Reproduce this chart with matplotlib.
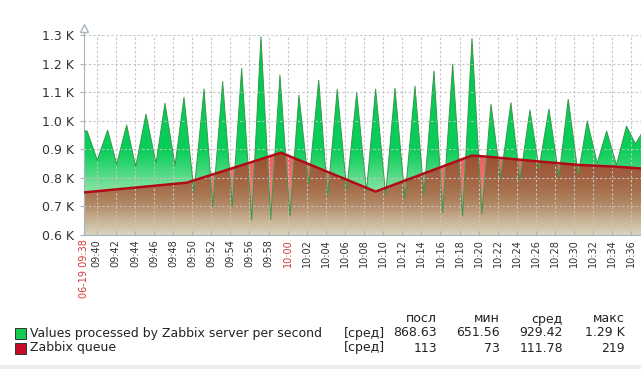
import numpy as np
import matplotlib
matplotlib.use('Agg')
import matplotlib.pyplot as plt
from matplotlib.patches import Rectangle

# minutes after 09:40 and values
proc_t = [-1.33, -1.0, 0.06, 1.15, 2.09, 3.14, 4.08, 5.16, 6.21, 7.15, 8.20, 9.14,
          10.19, 11.24, 12.15, 13.19, 14.20, 15.18, 16.23, 17.20, 18.22, 19.19,
          20.24, 21.18, 22.20, 23.25, 24.19, 25.19, 26.18, 27.23, 28.25, 29.21,
          30.26, 31.24, 32.28, 33.33, 34.27, 35.32, 36.23, 37.28, 38.32, 39.30,
          40.34, 41.29, 42.30, 43.38, 44.32, 45.37, 46.32, 47.36, 48.41, 49.38,
          50.43, 51.37, 52.42, 53.40, 54.43, 55.48, 56.42, 57.0]
proc_v = [964, 964, 862, 967, 848, 985, 839, 1023, 851, 1061, 843, 1082,
          752, 1111, 699, 1137, 699, 1183, 652, 1294, 655, 1160,
          666, 1090, 775, 1142, 734, 1110, 757, 1098, 753, 1111,
          740, 1113, 728, 1121, 740, 1174, 678, 1198, 666, 1288,
          673, 1058, 798, 1063, 792, 1037, 833, 1041, 804, 1075,
          810, 999, 851, 964, 845, 981, 919, 952]

queue_t = [-1.33, 9.42, 19.30, 29.21, 39.27, 40.97, 46.42, 50.61, 54.45, 57.0]
queue_v = [749, 783, 888, 752, 878, 874, 857, 845, 839, 833]

y_ticks = [600, 700, 800, 900, 1000, 1100, 1200, 1300]
x_ticks = list(range(0, 57, 2))
start_label = '06-19 09:38'

legend_names = ['Values processed by Zabbix server per second', 'Zabbix queue']
legend_cols = ['посл', 'мин', 'сред', 'макс']
legend_rows = [['868.63', '651.56', '929.42', '1.29 K'],
               ['113', '73', '111.78', '219']]

W, H = 641, 369
fig = plt.figure(figsize=(W / 100, H / 100), dpi=100)
ax = fig.add_axes([84 / W, 134 / H, 557 / W, 200 / H])
x0, x1 = -1.33, 57.0
ymin, ymax = 600, 1300


def grad_image(stops_v, stops_rgb):
    v = np.linspace(ymin, ymax, 400)
    rgb = np.array(stops_rgb, dtype=float) / 255
    img = np.zeros((400, 1, 3))
    for c in range(3):
        img[:, 0, c] = np.interp(v, stops_v, rgb[:, c])
    return img


def grad_fill(xs, ys, img, z):
    poly = ax.fill_between(xs, ymin, ys, color='none', lw=0)
    im = ax.imshow(img, extent=[x0, x1, ymin, ymax], origin='lower',
                   aspect='auto', zorder=z, interpolation='bilinear')
    im.set_clip_path(poly.get_paths()[0], transform=ax.transData)


green_img = grad_image([600, 700, 750, 800, 850, 900, 1300],
                       [(220, 240, 222), (180, 235, 195), (140, 228, 165),
                        (95, 220, 140), (45, 212, 110), (10, 206, 90),
                        (0, 200, 80)])
pink_img = grad_image([600, 700, 800, 900, 1300],
                      [(240, 195, 190), (238, 145, 145), (238, 112, 112),
                       (234, 95, 95), (230, 80, 80)])
brown_img = grad_image([600, 650, 700, 750, 800, 880, 1300],
                       [(218, 212, 192), (200, 180, 150), (180, 140, 105),
                        (168, 115, 80), (162, 98, 65), (155, 80, 50),
                        (150, 70, 45)])

grad_fill(proc_t, proc_v, green_img, 0.5)
grad_fill(queue_t, queue_v, pink_img, 0.6)
xx = np.linspace(x0, x1, 3000)
under = np.minimum(np.interp(xx, proc_t, proc_v), np.interp(xx, queue_t, queue_v))
grad_fill(xx, under, brown_img, 0.7)

ax.plot(proc_t, proc_v, color='#38994a', lw=0.7, zorder=3)
ax.plot(queue_t, queue_v, color='#b00c18', lw=1.8, zorder=4)

ax.set_xlim(x0, x1)
ax.set_ylim(ymin, ymax)
ax.set_axisbelow(False)
ax.grid(True, color='#c4c4c4', linestyle=(0, (2, 2)), linewidth=0.8)

ax.set_yticks(y_ticks)
ax.set_yticklabels([f'{v / 1000:.1f} K' for v in y_ticks])
ticks = [x0] + x_ticks
labels = [start_label] + [f'{9 + (40 + m) // 60:02d}:{(40 + m) % 60:02d}' for m in x_ticks]
ax.set_xticks(ticks)
ax.set_xticklabels(labels, rotation=90, fontsize=7, va='top', ha='center')
for lab in ax.get_xticklabels():
    if lab.get_text() in (start_label, '10:00'):
        lab.set_color('#d03a3a')
    else:
        lab.set_color('#333333')
ax.tick_params(axis='y', labelsize=9, labelcolor='#333333', length=3,
               color='#a8b4bc', pad=4)
ax.tick_params(axis='x', length=3, direction='in', color='#a8b4bc', pad=3)
ax.xaxis.get_gridlines()[0].set_visible(False)

for s in ['top', 'right']:
    ax.spines[s].set_visible(False)
for s in ['left', 'bottom']:
    ax.spines[s].set_color('#a8b4bc')
ax.plot([0, 0], [1.0, 1.03], transform=ax.transAxes, color='#a8b4bc', lw=1, clip_on=False)
ax.plot([0], [1.035], transform=ax.transAxes, marker='^', ms=6, mfc='white',
        mec='#a8b4bc', clip_on=False)

# legend
def fy(y):
    return 1 - y / H


txt = dict(fontsize=9, color='#222222', va='center')
for x, name in zip([437, 500, 563, 625], legend_cols):
    fig.text(x / W, fy(319), name, ha='right', **txt)
for i, (name, col) in enumerate(zip(legend_names, ['#14c850', '#c80a28'])):
    y = 333 + i * 15
    fig.add_artist(Rectangle((15 / W, fy(y + 5.5)), 11 / W, 11 / H,
                             transform=fig.transFigure, facecolor=col,
                             edgecolor='#333333', lw=0.7))
    fig.text(30 / W, fy(y), name, ha='left', **txt)
    fig.text(385 / W, fy(y), '[сред]', ha='right', **txt)
    for x, val in zip([437, 500, 563, 625], legend_rows[i]):
        fig.text(x / W, fy(y), val, ha='right', **txt)

fig.add_artist(Rectangle((0, 0), 1, 4 / H, transform=fig.transFigure,
                         facecolor='#eceff1', edgecolor='none'))

fig.savefig('out.png', dpi=100)
